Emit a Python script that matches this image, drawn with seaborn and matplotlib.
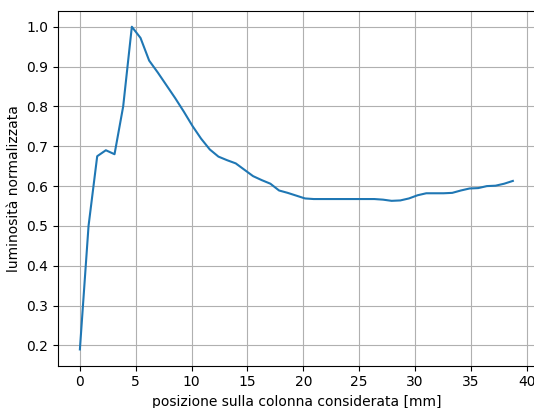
import matplotlib
matplotlib.use("Agg")
import matplotlib.pyplot as plt
import seaborn as sns
import pandas as pd

# position along the column [mm]
posizione = [0.0, 0.775, 1.55, 2.325, 3.1, 3.875, 4.65, 5.425, 6.2, 6.975,
             7.75, 8.525, 9.3, 10.075, 10.85, 11.625, 12.4, 13.175, 13.95, 14.725,
             15.5, 16.275, 17.05, 17.825, 18.6, 19.375, 20.15, 20.925, 21.7, 22.475,
             23.25, 24.025, 24.8, 25.575, 26.35, 27.125, 27.9, 28.675, 29.45, 30.225,
             31.0, 31.775, 32.55, 33.325, 34.1, 34.875, 35.65, 36.425, 37.2, 37.975,
             38.75]

# normalized luminosity
luminosita = [0.19, 0.50, 0.675, 0.69, 0.68, 0.80, 1.00, 0.972, 0.915, 0.885,
              0.853, 0.821, 0.787, 0.751, 0.719, 0.692, 0.674, 0.665, 0.657, 0.641,
              0.625, 0.615, 0.606, 0.589, 0.583, 0.576, 0.569, 0.5675, 0.5675, 0.5675,
              0.5675, 0.5675, 0.5675, 0.5675, 0.5675, 0.566, 0.563, 0.564, 0.569, 0.577,
              0.582, 0.582, 0.582, 0.583, 0.589, 0.594, 0.595, 0.600, 0.601, 0.606,
              0.613]

df = pd.DataFrame({"x": posizione, "y": luminosita})

fig = plt.figure(figsize=(5.34, 4.08), dpi=100)
ax = fig.add_axes([0.109, 0.104, 0.892, 0.870])
sns.lineplot(data=df, x="x", y="y", ax=ax, color="#1f77b4", linewidth=1.5)
ax.grid(True)
ax.set_xlabel("posizione sulla colonna considerata [mm]")
ax.set_ylabel("luminosità normalizzata")
ax.set_xticks([0, 5, 10, 15, 20, 25, 30, 35, 40])
ax.set_yticks([0.2, 0.3, 0.4, 0.5, 0.6, 0.7, 0.8, 0.9, 1.0])
ax.set_xlim(-1.94, 40.69)
ax.set_ylim(0.1495, 1.0405)

fig.savefig("out.png", dpi=100)
